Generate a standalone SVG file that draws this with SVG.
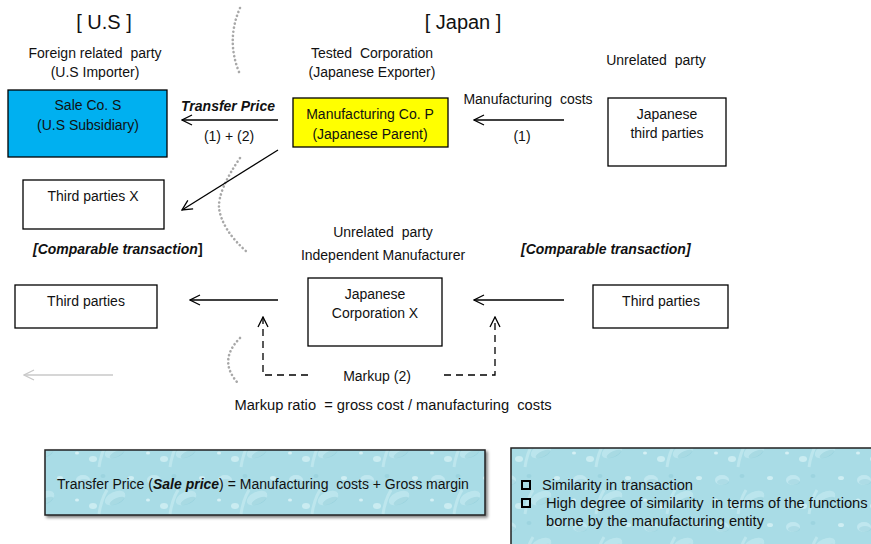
<svg xmlns="http://www.w3.org/2000/svg" width="871" height="544" viewBox="0 0 871 544">
  <style>
    text { font-family: "Liberation Sans", Arial, sans-serif; font-size: 14px; fill: #111; white-space: pre; }
    .title { font-size: 20px; }
    .bi { font-weight: bold; font-style: italic; }
    .c { text-anchor: middle; }
    .wide { font-size: 14.7px; }
    .box { fill: #fff; stroke: #000; stroke-width: 1.3; }
    .link { stroke: #000; stroke-width: 1.3; fill: none; }
    .dash { stroke: #000; stroke-width: 1.3; fill: none; stroke-dasharray: 7 5; }
    .dots { stroke: #a8a8a8; stroke-width: 2.6; fill: none; stroke-dasharray: 0.1 4; stroke-linecap: round; }
    .panel { fill: url(#drops); stroke: #222; stroke-width: 1.5; }
    .check { fill: none; stroke: #000; stroke-width: 2; }
  </style>
  <defs>
    <marker id="arrow" viewBox="0 0 12 12" refX="11" refY="6" markerWidth="12" markerHeight="12" markerUnits="userSpaceOnUse" orient="auto">
      <path d="M1,1 L11,6 L1,11" fill="none" stroke="#000" stroke-width="1.3"/>
    </marker>
    <marker id="arrowGray" viewBox="0 0 12 12" refX="11" refY="6" markerWidth="12" markerHeight="12" markerUnits="userSpaceOnUse" orient="auto">
      <path d="M1,1 L11,6 L1,11" fill="none" stroke="#c8c8c8" stroke-width="1.3"/>
    </marker>
    <!-- water-drop texture for the note panels -->
    <pattern id="drops" width="71" height="47" patternUnits="userSpaceOnUse">
      <rect width="71" height="47" fill="#a9dce6"/>
      <ellipse cx="12" cy="10" rx="7" ry="5" fill="#d2f0f5" opacity="0.55"/>
      <ellipse cx="13" cy="12" rx="6" ry="3" fill="#82c5d3" opacity="0.3"/>
      <ellipse cx="44" cy="28" rx="11" ry="6" fill="#c9ecf2" opacity="0.55" transform="rotate(-25 44 28)"/>
      <ellipse cx="46" cy="31" rx="8" ry="3" fill="#7cc1cf" opacity="0.3" transform="rotate(-25 46 31)"/>
      <ellipse cx="60" cy="8" rx="3" ry="2" fill="#dff6f9" opacity="0.7"/>
      <ellipse cx="22" cy="36" rx="4" ry="3" fill="#dff6f9" opacity="0.6"/>
      <ellipse cx="6" cy="30" rx="2" ry="1.5" fill="#e8f9fb" opacity="0.7"/>
      <ellipse cx="32" cy="6" rx="2.5" ry="2" fill="#8fcbd8" opacity="0.45"/>
      <path d="M28,44 Q30,30 36,20" stroke="#d6f2f6" stroke-width="3" fill="none" opacity="0.45"/>
    </pattern>
    <filter id="shadow" x="-5%" y="-10%" width="110%" height="130%">
      <feDropShadow dx="2" dy="2" stdDeviation="1.5" flood-color="#000" flood-opacity="0.5"/>
    </filter>
  </defs>

  <!-- region headings -->
  <text class="title c" x="104" y="29">[ U.S ]</text>
  <text class="title c" x="463" y="29">[ Japan ]</text>

  <!-- dotted border between the countries -->
  <path class="dots" d="M240,8 Q226,40 239,72"/>
  <path class="dots" d="M240,158 Q218,190 219,208 Q222,230 247,252"/>
  <path class="dots" d="M240,338 Q218,360 237,382"/>

  <!-- party captions -->
  <text class="c" x="95" y="58">Foreign related  party</text>
  <text class="c" x="95" y="77">(U.S Importer)</text>
  <text class="c" x="372" y="58">Tested  Corporation</text>
  <text class="c" x="372" y="77">(Japanese Exporter)</text>
  <text class="c" x="656" y="65">Unrelated  party</text>
  <text class="c" x="383" y="237">Unrelated  party</text>
  <text class="c" x="383" y="260">Independent Manufacturer</text>

  <g id="sale-co-s">
    <rect x="8" y="90" width="159" height="67" fill="#00b0f0" stroke="#000" stroke-width="1.3"/>
    <text class="c" x="88" y="110">Sale Co. S</text>
    <text class="c" x="88" y="130">(U.S Subsidiary)</text>
  </g>
  <g id="manufacturing-co-p">
    <rect x="293" y="98" width="155" height="49" fill="#ffff00" stroke="#000" stroke-width="1.3"/>
    <text class="c" x="370" y="119">Manufacturing Co. P</text>
    <text class="c" x="370" y="139">(Japanese Parent)</text>
  </g>
  <g id="japanese-third-parties">
    <rect class="box" x="608" y="98" width="118" height="68"/>
    <text class="c" x="667" y="119">Japanese</text>
    <text class="c" x="667" y="138">third parties</text>
  </g>
  <g id="third-parties-x">
    <rect class="box" x="23" y="180" width="141" height="49"/>
    <text class="c" x="93" y="201">Third parties X</text>
  </g>
  <g id="third-parties-left">
    <rect class="box" x="15" y="285" width="142" height="43"/>
    <text class="c" x="86" y="306">Third parties</text>
  </g>
  <g id="japanese-corporation-x">
    <rect class="box" x="308" y="278" width="134" height="68"/>
    <text class="c" x="375" y="299">Japanese</text>
    <text class="c" x="375" y="318">Corporation X</text>
  </g>
  <g id="third-parties-right">
    <rect class="box" x="593" y="285" width="135" height="43"/>
    <text class="c" x="661" y="306">Third parties</text>
  </g>

  <g id="connectors">
    <line class="link" x1="278" y1="120" x2="182" y2="120" marker-end="url(#arrow)"/>
    <line class="link" x1="564" y1="120" x2="474" y2="120" marker-end="url(#arrow)"/>
    <line class="link" x1="278" y1="150" x2="182" y2="210" marker-end="url(#arrow)"/>
    <line class="link" x1="278" y1="300" x2="190" y2="300" marker-end="url(#arrow)"/>
    <line class="link" x1="564" y1="300" x2="474" y2="300" marker-end="url(#arrow)"/>
    <polyline class="dash" points="308,375 263,375 263,317" marker-end="url(#arrow)"/>
    <polyline class="dash" points="444,375 495,375 495,317" marker-end="url(#arrow)"/>
    <line x1="113" y1="375" x2="24" y2="375" stroke="#c8c8c8" stroke-width="1.3" marker-end="url(#arrowGray)"/>
  </g>

  <!-- connector labels -->
  <text class="bi c" x="228" y="111">Transfer Price</text>
  <text class="c" x="229" y="141">(1) + (2)</text>
  <text class="c" x="528" y="104">Manufacturing  costs</text>
  <text class="c" x="522" y="141">(1)</text>
  <text x="33" y="254" font-weight="bold"><tspan font-style="italic">[Comparable transaction</tspan>]</text>
  <text class="bi" x="521" y="254">[Comparable transaction]</text>
  <text class="c" x="377" y="381">Markup (2)</text>
  <text class="c wide" x="393" y="410">Markup ratio  = gross cost / manufacturing  costs</text>

  <g id="formula-panel">
    <rect class="panel" x="45" y="450" width="440" height="65" filter="url(#shadow)"/>
    <text x="57" y="489">Transfer Price (<tspan class="bi">Sale price</tspan>) = Manufacturing  costs + Gross margin</text>
  </g>
  <g id="criteria-panel">
    <rect class="panel" x="511" y="448" width="370" height="100" stroke-width="2"/>
    <rect class="check" x="522" y="481" width="8" height="8"/>
    <rect class="check" x="522" y="499" width="8" height="8"/>
    <text class="wide" x="542" y="490">Similarity in transaction</text>
    <text class="wide" x="546" y="508">High degree of similarity  in terms of the functions</text>
    <text class="wide" x="546" y="526">borne by the manufacturing entity</text>
  </g>
</svg>
